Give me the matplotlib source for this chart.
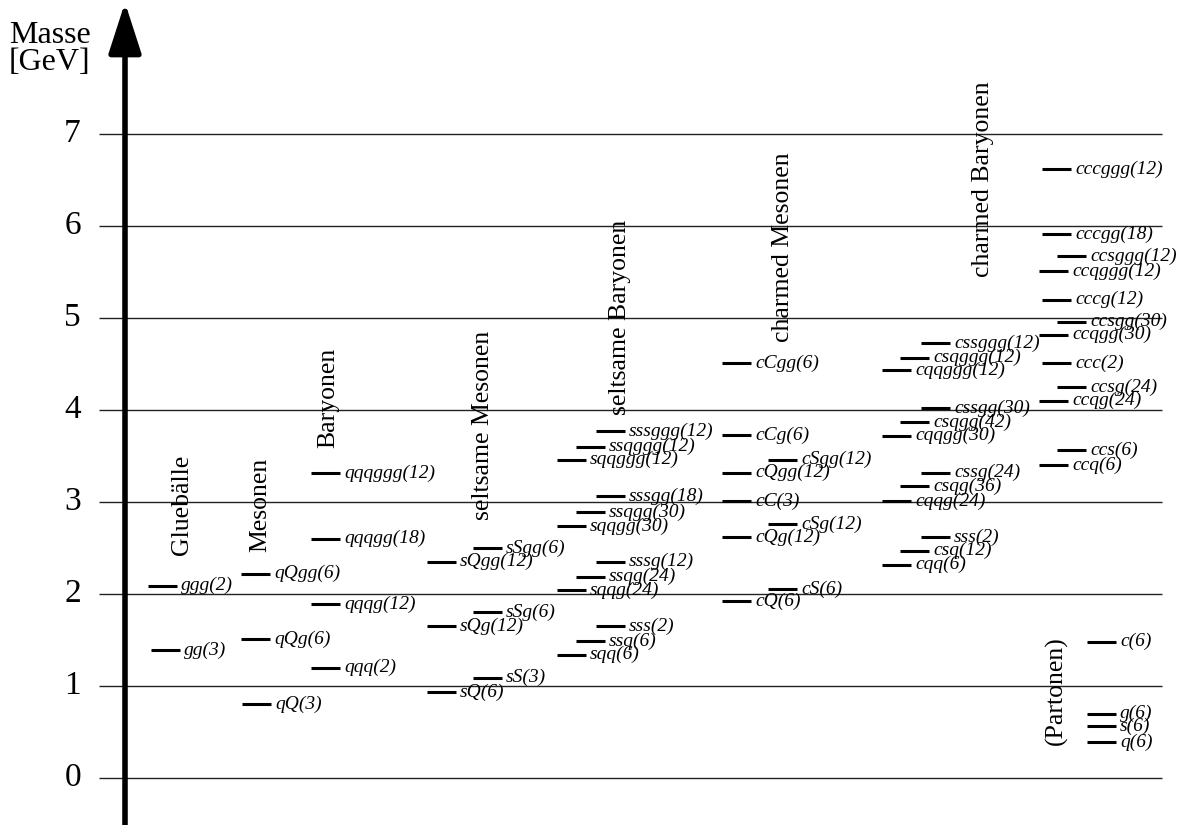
import matplotlib
matplotlib.use('Agg')
import matplotlib.pyplot as plt

plt.rcParams['font.family'] = ['Liberation Serif', 'DejaVu Serif']

# masses in GeV
glue_names = ['ggg(2)', 'gg(3)']
glue_mass = [2.09, 1.39]

meson_names = ['qQgg(6)', 'qQg(6)', 'qQ(3)']
meson_mass = [2.22, 1.51, 0.80]

baryon_names = ['qqqggg(12)', 'qqqgg(18)', 'qqqg(12)', 'qqq(2)']
baryon_mass = [3.31, 2.60, 1.89, 1.20]

smeson_names = ['sQgg(12)', 'sSgg(6)', 'sQg(12)', 'sSg(6)', 'sQ(6)', 'sS(3)']
smeson_mass = [2.35, 2.50, 1.65, 1.80, 0.93, 1.09]

sbaryon_names = ['sssggg(12)', 'ssqggg(12)', 'sqqggg(12)',
                 'sssgg(18)', 'ssqgg(30)', 'sqqgg(30)',
                 'sssg(12)', 'ssqg(24)', 'sqqg(24)',
                 'sss(2)', 'ssq(6)', 'sqq(6)']
sbaryon_mass = [3.77, 3.60, 3.46, 3.06, 2.89, 2.74,
                2.35, 2.19, 2.04, 1.65, 1.49, 1.34]

cmeson_names = ['cCgg(6)', 'cCg(6)', 'cSgg(12)', 'cQgg(12)', 'cC(3)',
                'cSg(12)', 'cQg(12)', 'cS(6)', 'cQ(6)']
cmeson_mass = [4.51, 3.73, 3.46, 3.32, 3.01, 2.76, 2.62, 2.05, 1.92]

cbaryon_names = ['cssggg(12)', 'csqggg(12)', 'cqqggg(12)',
                 'cssgg(30)', 'csqgg(42)', 'cqqgg(30)',
                 'cssg(24)', 'csqg(36)', 'cqqg(24)',
                 'sss(2)', 'csq(12)', 'cqq(6)']
cbaryon_mass = [4.73, 4.57, 4.43, 4.02, 3.87, 3.72,
                3.32, 3.17, 3.01, 2.62, 2.47, 2.32]

cc_names = ['cccggg(12)', 'cccgg(18)', 'ccsggg(12)', 'ccqggg(12)', 'cccg(12)',
            'ccsgg(30)', 'ccqgg(30)', 'ccc(2)', 'ccsg(24)', 'ccqg(24)',
            'ccs(6)', 'ccq(6)']
cc_mass = [6.62, 5.91, 5.67, 5.51, 5.20, 4.96, 4.82, 4.51, 4.25, 4.10, 3.56, 3.40]

parton_names = ['c(6)', 'g(6)', 's(6)', 'q(6)']
parton_mass = [1.48, 0.70, 0.56, 0.39]

# layout: left end of each level bar (pixel-like units across the page)
glue_x = [148, 151]
meson_x = [241, 241, 242]
baryon_x = [311] * 4
smeson_x = [427, 473] * 3
sbaryon_x = [596, 576, 557] * 4
cmeson_x = [722, 722, 768, 722, 722, 768, 722, 768, 722]
cbaryon_x = [921, 900, 882] * 4
cc_x = [1042, 1042, 1057, 1039, 1042, 1057, 1039, 1042, 1057, 1039, 1057, 1039]
parton_x = [1087] * 4

groups = [
    (glue_names, glue_mass, glue_x),
    (meson_names, meson_mass, meson_x),
    (baryon_names, baryon_mass, baryon_x),
    (smeson_names, smeson_mass, smeson_x),
    (sbaryon_names, sbaryon_mass, sbaryon_x),
    (cmeson_names, cmeson_mass, cmeson_x),
    (cbaryon_names, cbaryon_mass, cbaryon_x),
    (cc_names, cc_mass, cc_x),
    (parton_names, parton_mass, parton_x),
]

group_titles = ['Gluebälle', 'Mesonen', 'Baryonen', 'seltsame Mesonen',
                'seltsame Baryonen', 'charmed Mesonen', 'charmed Baryonen',
                '(Partonen)']
title_x = [182, 260, 328, 483, 620, 783, 983, 1056]
title_y = [2.42, 2.46, 3.59, 2.80, 3.95, 4.74, 5.45, 0.36]

ticks = [0, 1, 2, 3, 4, 5, 6, 7]

fig = plt.figure(figsize=(11.83, 8.25), dpi=100)
ax = fig.add_axes([0, 0, 1, 1])
ax.set_xlim(0, 1183)
ax.set_ylim(-0.511, 8.457)
ax.axis('off')

# horizontal grid lines and tick numbers
ax.hlines(ticks, 99, 1162, color='#222222', lw=1.0, zorder=1)
for t in ticks:
    ax.text(81, t, str(t), ha='right', va='center', fontsize=24)

ax.text(9, 8.23, 'Masse\n[GeV]', ha='left', va='top', fontsize=23,
        linespacing=0.92)

# mass axis arrow
ax.annotate('', xy=(125, 8.43), xytext=(125, -0.52),
            arrowprops=dict(arrowstyle='-|>,head_length=1.55,head_width=0.5',
                            lw=4, color='black', mutation_scale=20,
                            shrinkA=0, shrinkB=0), zorder=5)

bar_len = 29
for names, masses, xs in groups:
    for name, m, x in zip(names, masses, xs):
        ax.plot([x, x + bar_len], [m, m], color='black', lw=2.2,
                solid_capstyle='butt', zorder=3)
        ax.text(x + bar_len + 4, m, name, ha='left', va='center',
                fontsize=14, style='italic', zorder=4)

for title, x, y in zip(group_titles, title_x, title_y):
    ax.text(x, y, title, rotation=90, ha='center', va='bottom', fontsize=18.5)

fig.savefig('out.png', dpi=100)
